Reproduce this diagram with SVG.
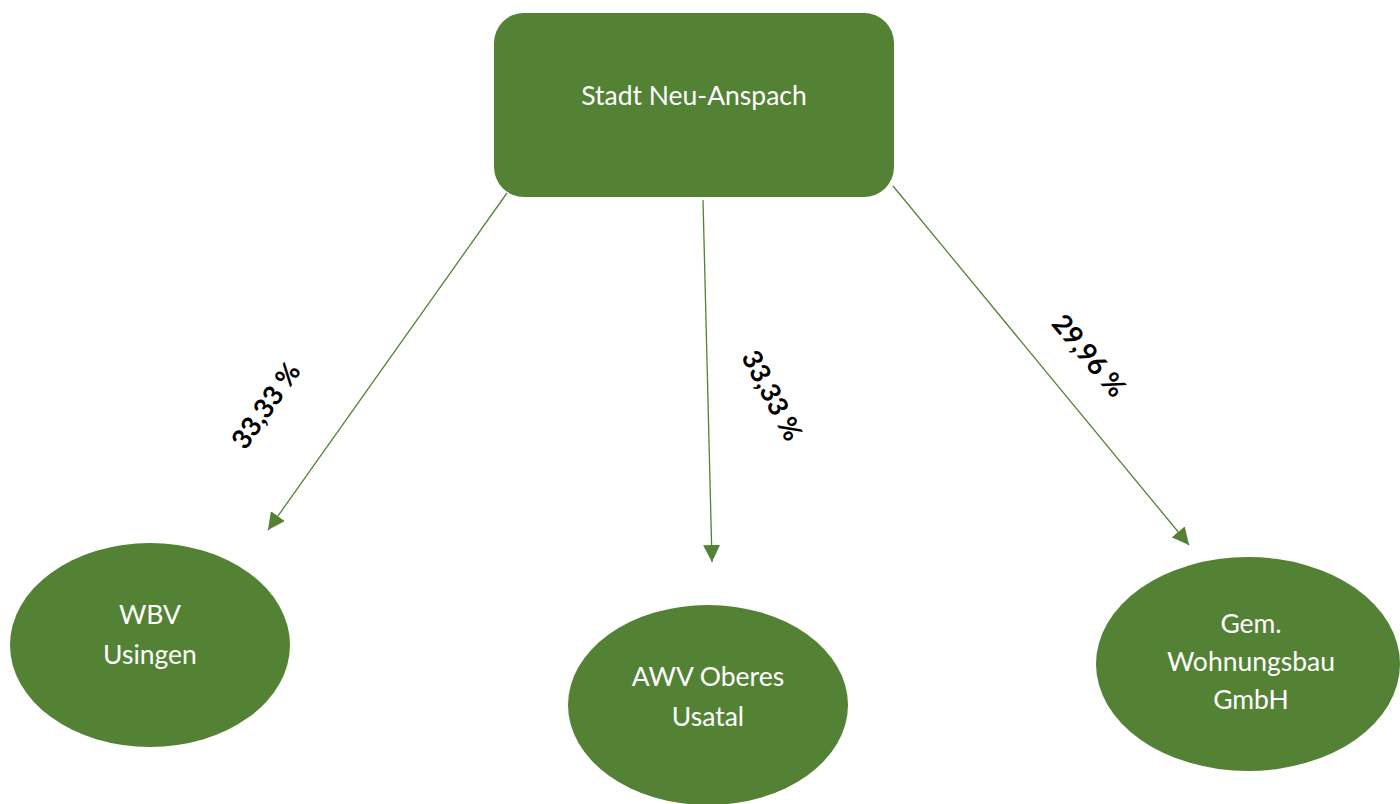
<svg xmlns="http://www.w3.org/2000/svg" width="1400" height="804" viewBox="0 0 1400 804">
<style>
.node{fill:#548235}
.nt{font-family:Lato,"Open Sans",sans-serif;font-size:26.5px;fill:#ffffff;text-anchor:middle;dominant-baseline:central}
.lbl{font-family:Lato,"Open Sans",sans-serif;font-size:27px;font-weight:bold;fill:#000000;text-anchor:middle;dominant-baseline:central}
.edge{stroke:#548235;stroke-width:1.3;fill:none;marker-end:url(#ah)}
</style>
<defs>
<marker id="ah" viewBox="0 0 10 10" refX="10" refY="5" markerWidth="17" markerHeight="17" markerUnits="userSpaceOnUse" orient="auto">
<path d="M0,0 L10,5 L0,10 z" fill="#548235"/>
</marker>
</defs>
<rect width="1400" height="804" fill="#ffffff"/>
<g id="edges">
<line class="edge" x1="507" y1="193" x2="268" y2="530"/>
<line class="edge" x1="703" y1="200" x2="712" y2="562"/>
<line class="edge" x1="893" y1="186" x2="1189" y2="545"/>
<text class="lbl" transform="translate(265,405) rotate(-55)">33,33 %</text>
<text class="lbl" transform="translate(773,395) rotate(62)">33,33 %</text>
<text class="lbl" transform="translate(1090,355) rotate(50)">29,96 %</text>
</g>
<g id="stadt">
<rect class="node" x="494" y="13" width="400" height="184" rx="30"/>
<text class="nt" x="694" y="95">Stadt Neu-Anspach</text>
</g>
<g id="wbv">
<ellipse class="node" cx="150" cy="645" rx="140" ry="102"/>
<text class="nt" x="150" y="614">WBV</text>
<text class="nt" x="150" y="654">Usingen</text>
</g>
<g id="awv">
<ellipse class="node" cx="708" cy="705" rx="140" ry="100"/>
<text class="nt" x="708" y="676">AWV Oberes</text>
<text class="nt" x="708" y="716">Usatal</text>
</g>
<g id="gem">
<ellipse class="node" cx="1248" cy="664" rx="152" ry="107"/>
<text class="nt" x="1251" y="623">Gem.</text>
<text class="nt" x="1251" y="661">Wohnungsbau</text>
<text class="nt" x="1251" y="699">GmbH</text>
</g>
</svg>
